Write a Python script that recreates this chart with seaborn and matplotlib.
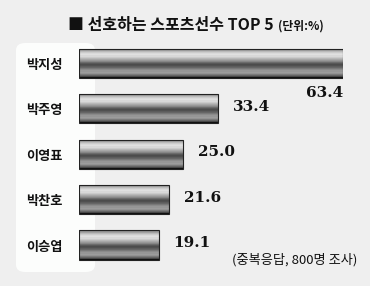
import matplotlib
matplotlib.use("Agg")
import matplotlib.pyplot as plt
import matplotlib.transforms as mtransforms
import seaborn as sns
import numpy as np
import pandas as pd
from matplotlib.patches import FancyBboxPatch

players = ["박지성", "박주영", "이영표", "박찬호", "이승엽"]
values = [63.4, 33.4, 25.0, 21.6, 19.1]
value_labels = ["63.4", "33.4", "25.0", "21.6", "19.1"]
title_main = "■ 선호하는 스포츠선수 TOP 5"
title_unit = "(단위:%)"
footnote = "(중복응답, 800명 조사)"

sns.set_style("white")
plt.rcParams['font.family'] = ['Noto Sans CJK KR', 'DejaVu Sans']

W, H = 370, 286
fig = plt.figure(figsize=(W / 100, H / 100), dpi=100)
fig.patch.set_facecolor("#efefef")

def fx(px):
    return px / W

def fy(py):
    return 1 - py / H

# white rounded panel behind labels
panel = FancyBboxPatch((fx(16), fy(272)), fx(95) - fx(16), fy(43) - fy(272),
                       boxstyle="round,pad=0,rounding_size=0.025",
                       transform=fig.transFigure, facecolor="#fcfdfc",
                       edgecolor="none", zorder=-5)
fig.patches.append(panel)

ax_top, ax_bot = 40.8, 267.7
ax = fig.add_axes([fx(79), fy(ax_bot), fx(343) - fx(79), (ax_bot - ax_top) / H])
ax.set_facecolor("none")
ax.set_zorder(2)

df = pd.DataFrame({"player": players, "value": values})
sns.barplot(data=df, x="value", y="player", orient="h", width=0.64,
            color="#888888", ax=ax)

stripes = ["#707070", "#939393", "#a2a2a2", "#bababa", "#cccccc", "#dadada",
           "#e0e0e0", "#d8d8d8", "#cacaca", "#b8b8b8", "#a8a8a8", "#989898",
           "#868686", "#6c6c6c", "#585858", "#4c4c4c", "#505050", "#5c5c5c",
           "#666666", "#787878", "#8a8a8a", "#969696", "#9c9c9c", "#929292",
           "#7a7a7a", "#646464", "#464646", "#111111"]
rgb = np.array([matplotlib.colors.to_rgb(c) for c in stripes])[:, None, :]

for p in ax.patches:
    x0, y0 = p.get_x(), p.get_y()
    w, h = p.get_width(), p.get_height()
    im = ax.imshow(rgb, extent=(x0, x0 + w, y0 + h, y0), aspect="auto",
                   interpolation="nearest", zorder=2)
    im.set_clip_path(p)
    p.set_facecolor("none")
    p.set_edgecolor("#222222")
    p.set_linewidth(0.8)
    p.set_zorder(3)

ax.set_xlim(0, max(values))
ax.set_ylim(len(players) - 0.5, -0.5)
ax.set_yticks(range(len(players)))
ax.set_yticklabels(players, fontsize=9.5, fontweight="black", color="#111111")

for s in ax.spines.values():
    s.set_visible(False)
ax.set_xticks([])
ax.set_xlabel("")
ax.set_ylabel("")
ax.tick_params(axis="y", length=0, pad=12)

for i, (v, lab) in enumerate(zip(values, value_labels)):
    if i == 0:
        tr = ax.transData + mtransforms.ScaledTranslation(0, -30 / 100, fig.dpi_scale_trans)
        ha = "right"
    else:
        tr = ax.transData + mtransforms.ScaledTranslation(15 / 100, 2 / 100, fig.dpi_scale_trans)
        ha = "left"
    ax.text(v, i, lab, transform=tr, ha=ha, va="center",
            fontfamily="DejaVu Serif", fontweight="bold", fontsize=11,
            color="#111111", clip_on=False)

t1 = fig.text(fx(68), fy(25), title_main, ha="left", va="center",
              fontsize=11.5, fontweight="black", color="#111111")
fig.canvas.draw()
bb = t1.get_window_extent()
fig.text(bb.x1 / W + fx(4), fy(26), title_unit, ha="left", va="center",
         fontsize=8.5, fontweight="bold", color="#111111")

fig.text(fx(357), fy(260), footnote, ha="right", va="center",
         fontsize=9.5, style="italic", color="#111111")

fig.savefig("out.png", dpi=100, facecolor=fig.get_facecolor())
